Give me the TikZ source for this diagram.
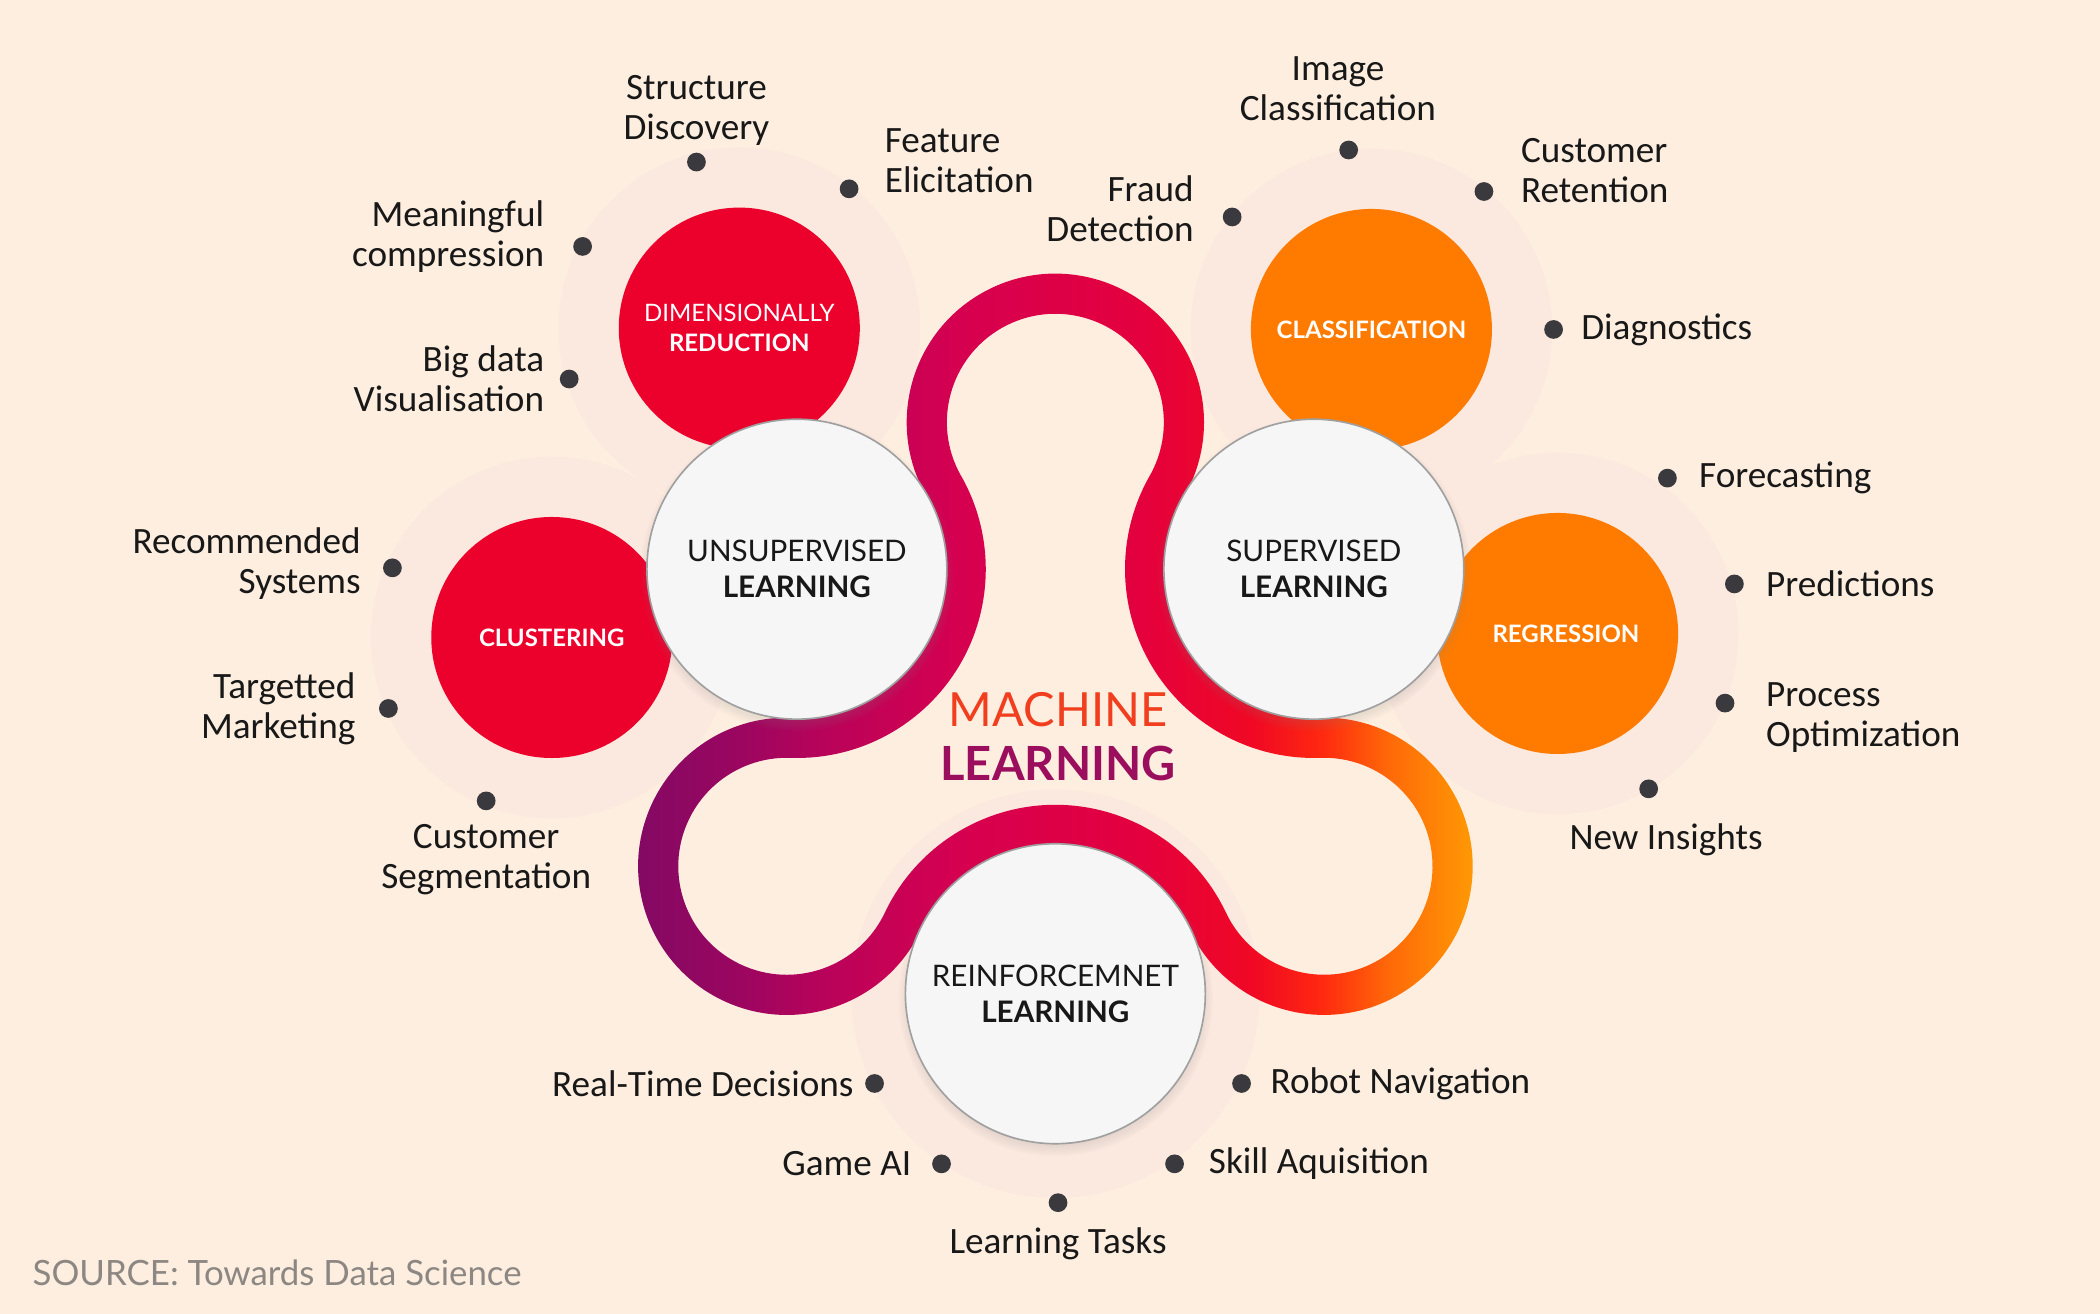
\documentclass[tikz,border=0pt]{standalone}
\usepackage{fontspec}
\setmainfont{Carlito}
\newfontfamily\latofont{Lato}
\usepackage{tikz}
\usetikzlibrary{positioning, calc, shadows}
\definecolor{MLBack}{RGB}{253,238,223}
\definecolor{MLHalo}{RGB}{251,232,222}
\definecolor{MLRed}{RGB}{236,0,44}
\definecolor{MLOrange}{RGB}{255,123,0}
\definecolor{MLHub}{RGB}{246,246,246}
\definecolor{MLRim}{RGB}{160,160,160}
\definecolor{MLDot}{RGB}{58,58,62}
\definecolor{MLInk}{RGB}{24,24,24}
\definecolor{MLMachine}{RGB}{240,62,30}
\definecolor{MLLearning}{RGB}{155,14,94}
\definecolor{MLSource}{RGB}{140,135,130}
\definecolor{RibA}{RGB}{127,10,100}
\definecolor{RibB}{RGB}{154,6,96}
\definecolor{RibC}{RGB}{184,3,90}
\definecolor{RibD}{RGB}{214,0,80}
\definecolor{RibE}{RGB}{227,0,63}
\definecolor{RibF}{RGB}{240,8,36}
\definecolor{RibG}{RGB}{255,40,16}
\definecolor{RibH}{RGB}{255,106,8}
\definecolor{RibI}{RGB}{255,154,5}
\pgfdeclarehorizontalshading{ribbonshade}{100bp}{color(0bp)=(RibA); color(25bp)=(RibA);
  color(32bp)=(RibB); color(37bp)=(RibC); color(45bp)=(RibD); color(55bp)=(RibE);
  color(62bp)=(RibF); color(66bp)=(RibG); color(70bp)=(RibH); color(75bp)=(RibI);
  color(100bp)=(RibI)}

\begin{document}
\begin{tikzpicture}[x=0.02cm, y=0.02cm,
    hub/.style={circle, fill=MLHub, draw=MLRim, line width=0.7pt,
                minimum size=4.48cm, align=center, text=MLInk,
                font=\latofont\fontsize{12.6}{15.4}\selectfont,
                circular drop shadow={shadow xshift=0pt, shadow yshift=-2pt,
                                      shadow scale=1.05, opacity=0.35}},
    topic/.style={circle, minimum size=3.6cm, align=center, text=white,
                  font=\latofont\bfseries\fontsize{10.2}{12.8}\selectfont},
    halo/.style={circle, fill=MLHalo, minimum size=5.4cm},
    dot/.style={circle, fill=MLDot, inner sep=0pt, minimum size=0.28cm},
    lbl/.style={inner sep=0pt, text=MLInk, font=\fontsize{15.8}{17}\selectfont}
  ]
  \fill[MLBack] (0,0) rectangle (1568,981);
  \useasboundingbox (0,0) rectangle (1568,981);

  % Halos
  \node[halo] (hDR) at (552,736) {};
  \node[halo] (hCL) at (412,505) {};
  \node[halo] (hCF) at (1024,735) {};
  \node[halo] (hRG) at (1163,508) {};
  \node[halo, minimum size=6.1cm] (hRL) at (788,239) {};

  % Topic circles
  \node[topic, fill=MLRed]    (DR) at (552,736) {{\mdseries DIMENSIONALLY}\\REDUCTION};
  \node[topic, fill=MLRed]    (CL) at (412,505) {CLUSTERING};
  \node[topic, fill=MLOrange] (CF) at (1024,735) {CLASSIFICATION};
  \node[topic, fill=MLOrange] (RG) at (1163,508) {\hspace*{0.25cm}REGRESSION};

  % Ribbon
  \coordinate (T)  at (788,665.7);
  \coordinate (Uc) at (595,556);
  \coordinate (Sc) at (981,556);
  \coordinate (Rc) at (788,239);
  \coordinate (BL) at (587.4,334.1);
  \coordinate (BR) at (988.6,334.1);
  \shade[shading=ribbonshade, even odd rule]
    ($(T)+(209.6:111)$) arc[start angle=209.6, end angle=-29.6, radius=111]
      arc[start angle=150.4, end angle=271.96, radius=111]
      arc[start angle=91.96, end angle=-154.63, radius=111]
      arc[start angle=25.37, end angle=154.63, radius=111]
      arc[start angle=-25.37, end angle=-271.96, radius=111]
      arc[start angle=-91.96, end angle=29.6, radius=111] -- cycle
    ($(T)+(209.6:81)$) arc[start angle=209.6, end angle=-29.6, radius=81]
      arc[start angle=150.4, end angle=271.96, radius=141]
      arc[start angle=91.96, end angle=-154.63, radius=81]
      arc[start angle=25.37, end angle=154.63, radius=141]
      arc[start angle=-25.37, end angle=-271.96, radius=81]
      arc[start angle=-91.96, end angle=29.6, radius=141] -- cycle;

  % Hubs
  \node[hub] (UL) at (Uc) {UNSUPERVISED\\\textbf{LEARNING}};
  \node[hub] (SL) at (Sc) {SUPERVISED\\\textbf{LEARNING}};
  \node[hub] (RL) at (Rc) {REINFORCEMNET\\\textbf{LEARNING}};

  \node[align=center, font=\latofont\fontsize{20}{22.8}\selectfont] (ML) at (790,431)
    {\textcolor{MLMachine}{MACHINE}\\\textcolor{MLLearning}{\bfseries LEARNING}};

  % Dimensionally reduction
  \node[dot] (dSD) at (520,860) {};
  \node[lbl, align=center, above=0.1cm of dSD] (tSD) {Structure\\Discovery};
  \node[dot] (dFE) at (634,840) {};
  \node[lbl, align=left, right=0.38cm of dFE, yshift=0.42cm] (tFE) {Feature\\Elicitation};
  \node[dot] (dMC) at (435,797) {};
  \node[lbl, align=right, left=0.42cm of dMC, yshift=0.14cm] (tMC) {Meaningful\\compression};
  \node[dot] (dBV) at (425,698) {};
  \node[lbl, align=right, left=0.22cm of dBV] (tBV) {Big data\\Visualisation};

  % Clustering
  \node[dot] (dRS) at (293,557) {};
  \node[lbl, align=right, left=0.32cm of dRS, yshift=0.06cm] (tRS) {Recommended\\Systems};
  \node[dot] (dTM) at (290,452) {};
  \node[lbl, align=right, left=0.34cm of dTM] (tTM) {Targetted\\Marketing};
  \node[dot] (dCS) at (363,383) {};
  \node[lbl, align=center, below=0.2cm of dCS] (tCS) {Customer\\Segmentation};

  % Classification
  \node[dot] (dIC) at (1007,869) {};
  \node[lbl, align=center, above=0.28cm of dIC, xshift=-0.16cm] (tIC) {Image\\Classification};
  \node[dot] (dFD) at (920,819) {};
  \node[lbl, align=right, left=0.42cm of dFD, yshift=0.12cm] (tFD) {Fraud\\Detection};
  \node[dot] (dCR) at (1108,838) {};
  \node[lbl, align=left, right=0.4cm of dCR, yshift=0.32cm] (tCR) {Customer\\Retention};
  \node[dot] (dDG) at (1160,735) {};
  \node[lbl, right=0.26cm of dDG] (tDG) {Diagnostics};

  % Regression
  \node[dot] (dFC) at (1245,624) {};
  \node[lbl, right=0.32cm of dFC] (tFC) {Forecasting};
  \node[dot] (dPR) at (1295,545) {};
  \node[lbl, right=0.32cm of dPR] (tPR) {Predictions};
  \node[dot] (dPO) at (1288,456) {};
  \node[lbl, align=left, right=0.46cm of dPO, yshift=-0.22cm] (tPO) {Process\\Optimization};
  \node[dot] (dNI) at (1231,392) {};
  \node[lbl, below=0.36cm of dNI, xshift=0.26cm] (tNI) {New Insights};

  % Reinforcement
  \node[dot] (dRT) at (653,172) {};
  \node[lbl, left=0.16cm of dRT] (tRT) {Real-Time Decisions};
  \node[dot] (dRN) at (927,172) {};
  \node[lbl, right=0.28cm of dRN] (tRN) {Robot Navigation};
  \node[dot] (dGA) at (703,112) {};
  \node[lbl, left=0.3cm of dGA] (tGA) {Game AI};
  \node[dot] (dSA) at (877,112) {};
  \node[lbl, right=0.36cm of dSA] (tSA) {Skill Aquisition};
  \node[dot] (dLT) at (790,83) {};
  \node[lbl, below=0.22cm of dLT] (tLT) {Learning Tasks};

  \node[anchor=west, inner sep=0pt, text=MLSource,
        font=\latofont\fontsize{14.8}{17}\selectfont] (src)
    at (24,31) {SOURCE: Towards Data Science};
\end{tikzpicture}
\end{document}
